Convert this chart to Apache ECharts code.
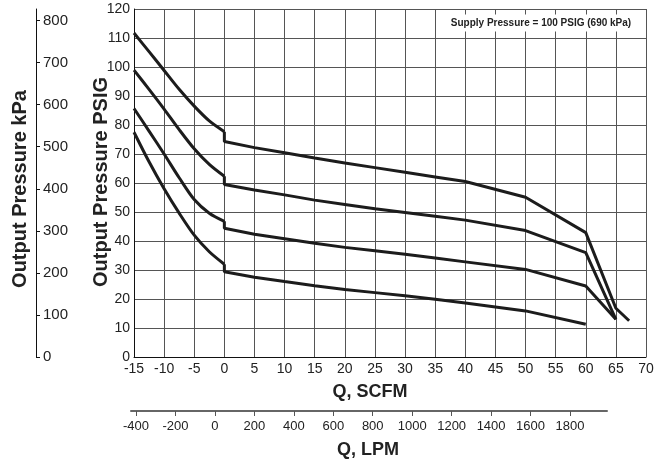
<!DOCTYPE html>
<html>
<head>
<meta charset="utf-8">
<script src="https://cdn.jsdelivr.net/npm/echarts@6/dist/echarts.min.js"></script>
<style>html,body{margin:0;padding:0;background:#fff}#c{width:665px;height:464px}</style>
</head>
<body>
<div id="c"></div>
<script>
// ---- data (SCFM, PSIG) ----
const curveA = [[-15,111.7],[-12.5,105.3],[-10,98.8],[-7.5,92.3],[-5,86.5],[-2.5,81.4],[0,77.7],[0,74.3],[5,72.2],[10,70.4],[15,68.6],[20,66.9],[25,65.3],[30,63.7],[35,62.1],[40,60.5],[50,55.1],[60,42.9],[65,16.8],[67.2,12.5]];
const curveB = [[-15,98.9],[-12.5,92.3],[-10,85.5],[-7.5,78.4],[-5,71.8],[-2.5,66.4],[0,62.3],[0,59.5],[5,57.6],[10,55.9],[15,54.1],[20,52.6],[25,51.1],[30,49.8],[35,48.5],[40,47.2],[50,43.6],[60,36.0],[65,13.0]];
const curveC = [[-15,85.7],[-12.5,77.9],[-10,70.0],[-7.5,61.8],[-5,54.3],[-2.5,49.6],[0,46.8],[0,44.4],[5,42.3],[10,40.8],[15,39.2],[20,37.8],[25,36.6],[30,35.4],[35,34.1],[40,32.8],[50,30.2],[60,24.5],[65,13.0]];
const curveD = [[-15,77.5],[-12.5,67.3],[-10,58.0],[-7.5,49.6],[-5,42.0],[-2.5,36.3],[0,32.0],[0,29.4],[5,27.5],[10,26.0],[15,24.6],[20,23.3],[25,22.2],[30,21.1],[35,19.9],[40,18.6],[50,15.9],[60,11.3]];
// ---- axes / labels ----
const lpmTicks = [-400,-200,0,200,400,600,800,1000,1200,1400,1600,1800];
const psiToKpa = 6.895;
const titleKpa = 'Output Pressure kPa';
const titlePsig = 'Output Pressure PSIG';
const titleScfm = 'Q, SCFM';
const titleLpm = 'Q, LPM';
const noteText = 'Supply Pressure = 100 PSIG (690 kPa)';

const FONT = 'Liberation Sans, Arial, Helvetica, sans-serif';
const chart = echarts.init(document.getElementById('c'), null, {renderer:'canvas'});
const lineStyle = {color:'#1c1c1c', width:3};
function parts(d){
  // split at the vertical step (first x == 0): smooth left branch, straight right branch
  let i = d.findIndex(p => p[0] === 0);
  const base = {type:'line', showSymbol:false, symbol:'none', lineStyle:lineStyle, silent:true, clip:false};
  return [
    Object.assign({}, base, {data:d.slice(0, i+1), smooth:0.3}),
    Object.assign({}, base, {data:d.slice(i)})
  ];
}
const series = [].concat(parts(curveA), parts(curveB), parts(curveC), parts(curveD));
chart.setOption({
  animation:false,
  backgroundColor:'#fff',
  grid:[
    {left:134, right:19, top:9, bottom:107},
    {left:131, right:58, top:410, height:1}
  ],
  xAxis:[
    {type:'value', gridIndex:0, min:-15, max:70, interval:5,
     axisLine:{show:true, onZero:false, lineStyle:{color:'#111', width:1}},
     axisTick:{show:false},
     axisLabel:{fontFamily:FONT, fontSize:14, color:'#222', margin:5},
     splitLine:{show:true, lineStyle:{color:'#555', width:1}}},
    {type:'value', gridIndex:1, min:-425.4, max:1987.6, position:'bottom',
     axisLine:{show:true, onZero:false, lineStyle:{color:'#666', width:2}},
     axisTick:{show:true, length:5, customValues:lpmTicks, lineStyle:{color:'#555', width:1}},
     axisLabel:{fontFamily:FONT, fontSize:13, color:'#222', margin:9, customValues:lpmTicks,
                formatter:function(v){return String(v);}},
     splitLine:{show:false}}
  ],
  yAxis:[
    {type:'value', gridIndex:0, min:0, max:120, interval:10,
     axisLine:{show:true, onZero:false, lineStyle:{color:'#111', width:1}},
     axisTick:{show:false},
     axisLabel:{fontFamily:FONT, fontSize:14, color:'#222', margin:4},
     splitLine:{show:true, lineStyle:{color:'#555', width:1}}},
    {type:'value', gridIndex:0, position:'left', offset:98, min:0, max:120*psiToKpa, interval:100,
     axisLine:{show:true, onZero:false, lineStyle:{color:'#111', width:1}},
     axisTick:{show:true, inside:true, length:4, lineStyle:{color:'#111'}},
     axisLabel:{inside:true, fontFamily:FONT, fontSize:15, color:'#222', margin:7},
     splitLine:{show:false}},
    {type:'value', gridIndex:1, show:false}
  ],
  series:series,
  graphic:[
    {type:'text', x:20, y:189, rotation:Math.PI/2, z:10,
     style:{text:titleKpa, font:'bold 20px '+FONT, fill:'#222', align:'center', verticalAlign:'middle'}},
    {type:'text', x:101, y:182, rotation:Math.PI/2, z:10,
     style:{text:titlePsig, font:'bold 20px '+FONT, fill:'#222', align:'center', verticalAlign:'middle'}},
    {type:'text', x:370, y:392, z:10,
     style:{text:titleScfm, font:'bold 18px '+FONT, fill:'#222', align:'center', verticalAlign:'middle'}},
    {type:'text', x:368, y:450, z:10,
     style:{text:titleLpm, font:'bold 18px '+FONT, fill:'#222', align:'center', verticalAlign:'middle'}},
    {type:'text', x:540.5, y:23, z:10,
     style:{text:noteText, font:'bold 10px '+FONT, fill:'#222', align:'center', verticalAlign:'middle',
            backgroundColor:'#fff', padding:[4,5,3,6]}}
  ]
});
</script>
</body>
</html>
